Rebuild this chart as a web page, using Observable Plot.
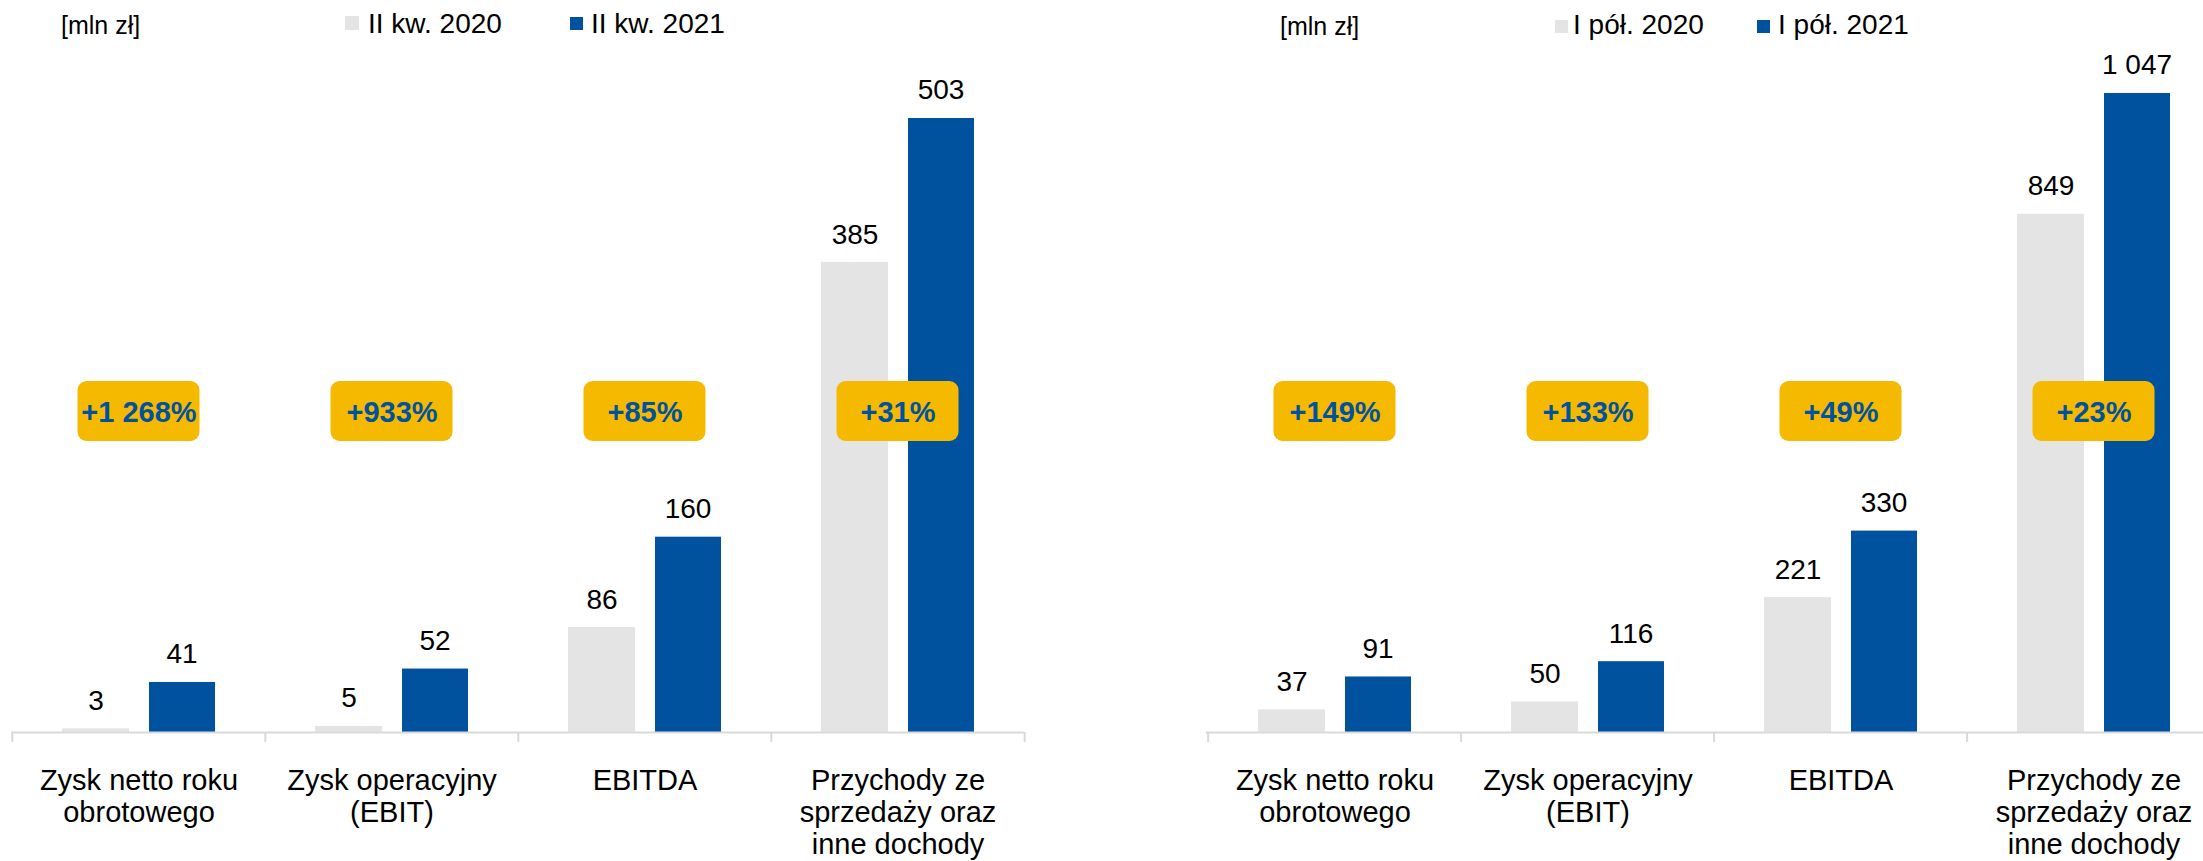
<!DOCTYPE html>
<html>
<head>
<meta charset="utf-8">
<script src="https://cdn.jsdelivr.net/npm/d3@7"></script>
<script src="https://cdn.jsdelivr.net/npm/@observablehq/plot@0.6"></script>
<style>
  html, body { margin: 0; padding: 0; background: #fff; overflow: hidden; }
  #page { position: relative; width: 2203px; height: 861px; overflow: hidden; font-family: "Liberation Sans", Arial, sans-serif; color: #000; }
  .panel { position: absolute; top: 0; }
  .lg { position: absolute; white-space: pre; line-height: 1; }
  .sw { position: absolute; }
</style>
</head>
<body>
<div id="page"></div>
<script>
// ---- data ----
const categories = ["Zysk netto roku\nobrotowego", "Zysk operacyjny\n(EBIT)", "EBITDA", "Przychody ze\nsprzedaży oraz\ninne dochody"];
const q2020 = [3, 5, 86, 385];
const q2021 = [41, 52, 160, 503];
const h2020 = [37, 50, 221, 849];
const h2021 = [91, 116, 330, 1047];
const qChange = ["+1 268%", "+933%", "+85%", "+31%"];
const hChange = ["+149%", "+133%", "+49%", "+23%"];
const qLegend = ["II kw. 2020", "II kw. 2021"];
const hLegend = ["I pół. 2020", "I pół. 2021"];
const unitLabel = "[mln zł]";

// ---- style ----
const GREY = "#e4e4e4", BLUE = "#00529f", GOLD = "#f5b900", AXIS = "#d9d9d9";
const FONT = "Liberation Sans, Arial, sans-serif";
const fmt = d3.formatLocale({decimal: ",", thousands: " ", grouping: [3], currency: ["", " zł"]}).format(",d");

function chart({a, b, change, yMax, width, xRange}) {
  const rows = categories.flatMap((c, i) => [
    {cat: c, series: 0, value: a[i]},
    {cat: c, series: 1, value: b[i]}
  ]);
  const bw = (xRange[1] - xRange[0]) / categories.length;
  const yTop = 24, yBase = 732;
  const yAt = px => (yBase - px) / (yBase - yTop) * yMax; // layout pixel -> value
  const badges = categories.map((c, i) => ({cat: c, label: change[i]}));
  return Plot.plot({
    width, height: 861,
    marginTop: 0, marginBottom: 119,
    marginLeft: xRange[0], marginRight: Math.max(0, width - xRange[1]),
    x: {type: "band", domain: categories, range: xRange, padding: 0, axis: null},
    y: {type: "linear", domain: [0, yMax], range: [yBase, yTop], axis: null},
    style: {fontFamily: FONT, background: "transparent", overflow: "hidden"},
    marks: [
      Plot.barY(rows.filter(d => d.series === 0), {x: "cat", y: "value", fill: GREY, insetLeft: 50, insetRight: 136}),
      Plot.barY(rows.filter(d => d.series === 1), {x: "cat", y: "value", fill: BLUE, insetLeft: 137, insetRight: 50}),
      Plot.ruleY([0], {stroke: AXIS, strokeWidth: 2}),
      Plot.ruleX(categories, {x: d => d, dx: -bw / 2, insetTop: 732, stroke: AXIS, strokeWidth: 2}),
      Plot.ruleX(categories.slice(-1), {x: d => d, dx: bw / 2, insetTop: 732, stroke: AXIS, strokeWidth: 2}),
      Plot.text(rows.filter(d => d.series === 0), {x: "cat", y: "value", text: d => fmt(d.value), dx: -43, dy: -19, lineAnchor: "bottom", fontSize: 28, fill: "#000"}),
      Plot.text(rows.filter(d => d.series === 1), {x: "cat", y: "value", text: d => fmt(d.value), dx: 43, dy: -19, lineAnchor: "bottom", fontSize: 28, fill: "#000"}),
      Plot.text(categories, {x: d => d, y: () => 0, text: d => d, dy: 35, lineAnchor: "top", lineHeight: 1.1, fontSize: 29, fill: "#000"}),
      Plot.barY(badges, {x: "cat", y1: () => yAt(441), y2: () => yAt(381), insetLeft: 65.5, insetRight: 65.5, rx: 9, fill: GOLD}),
      Plot.text(badges, {x: "cat", y: () => yAt(412), text: "label", fontSize: 29, fontWeight: "bold", fill: BLUE})
    ]
  });
}

const page = document.getElementById("page");

function addPanel(el, left) {
  el.classList.add("panel");
  el.style.left = left + "px";
  page.appendChild(el);
}
addPanel(chart({a: q2020, b: q2021, change: qChange, yMax: 580, width: 1100, xRange: [11, 1024.25]}), 0);
addPanel(chart({a: h2020, b: h2021, change: hChange, yMax: 1160, width: 1103, xRange: [106, 1121]}), 1100);

function addText(txt, left, baseline, size) {
  const s = document.createElement("div");
  s.className = "lg";
  s.textContent = txt;
  s.style.left = left + "px";
  s.style.fontSize = size + "px";
  s.style.top = (baseline - 0.8465 * size) + "px";
  page.appendChild(s);
}
function addSwatch(color, left, top, size) {
  const s = document.createElement("div");
  s.className = "sw";
  s.style.left = left + "px"; s.style.top = top + "px";
  s.style.width = size + "px"; s.style.height = size + "px";
  s.style.background = color;
  page.appendChild(s);
}
// left legend
addText(unitLabel, 61, 34, 25);
addSwatch(GREY, 345, 16, 14); addText(qLegend[0], 368, 34, 28);
addSwatch(BLUE, 570, 17, 13); addText(qLegend[1], 591, 34, 28);
// right legend
addText(unitLabel, 1280, 35, 25);
addSwatch(GREY, 1555, 20, 13); addText(hLegend[0], 1573, 35, 28);
addSwatch(BLUE, 1757, 20, 13); addText(hLegend[1], 1778, 35, 28);
</script>
</body>
</html>
